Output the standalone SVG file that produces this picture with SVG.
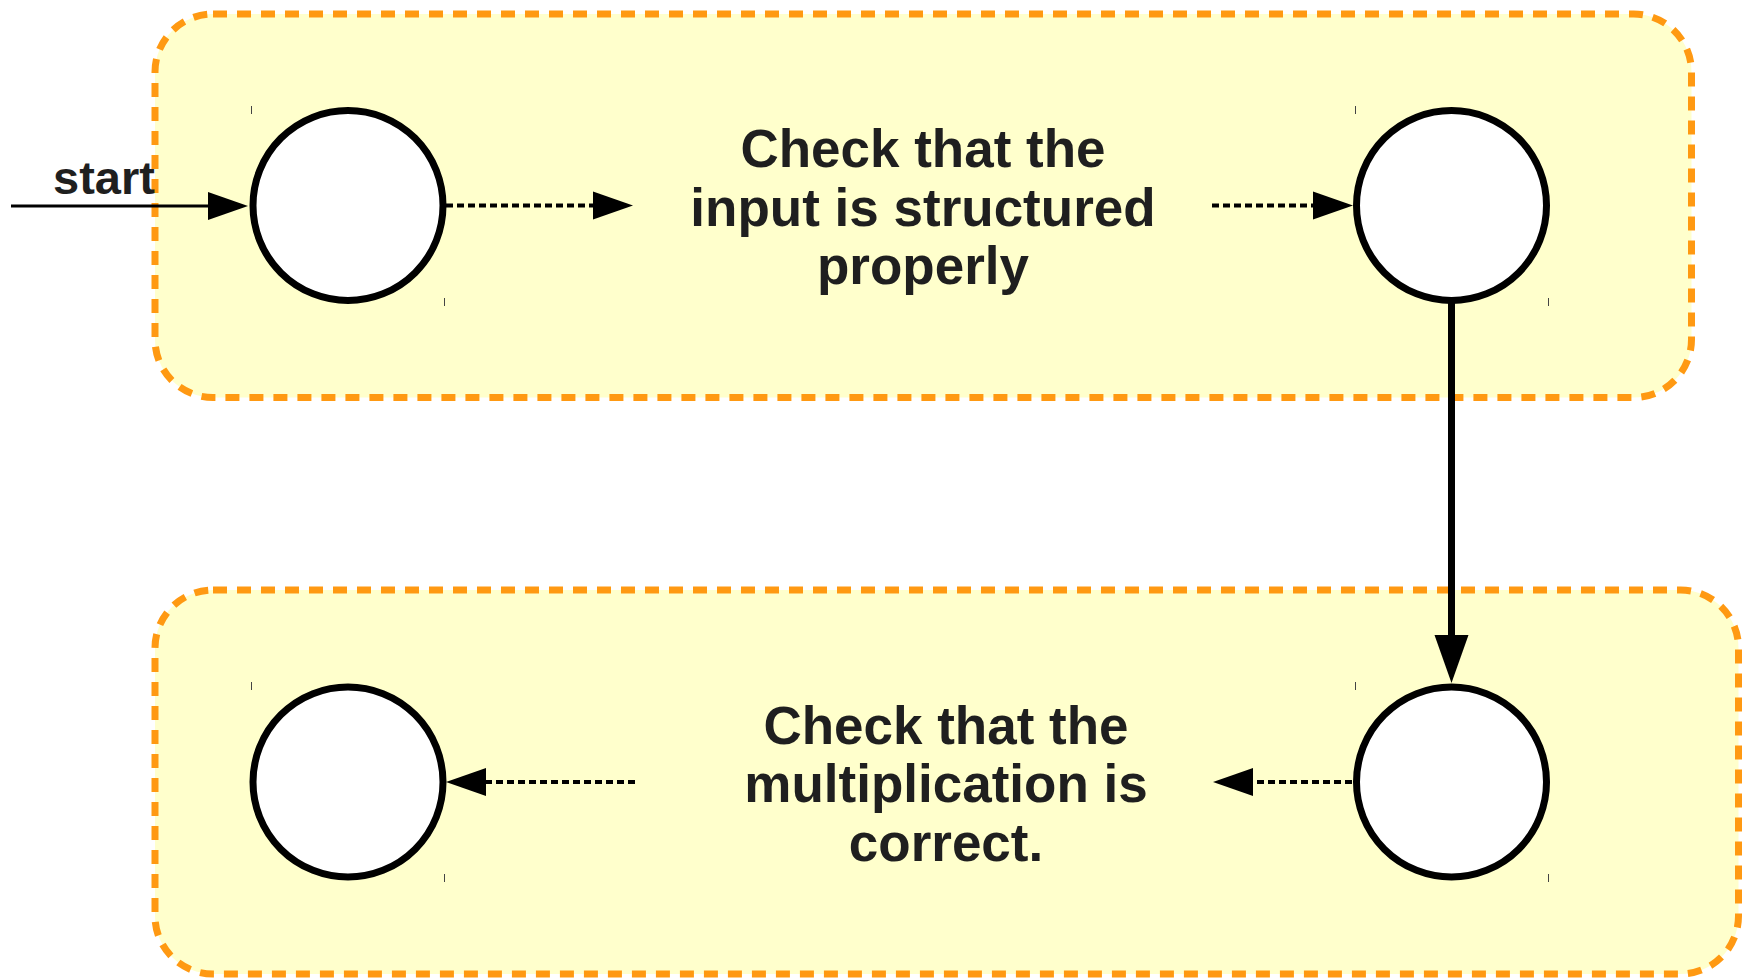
<svg xmlns="http://www.w3.org/2000/svg" width="1742" height="978" viewBox="0 0 1742 978">
  <style>
    .cluster { fill: #ffffcc; stroke: #ff9912; stroke-width: 7; stroke-dasharray: 14 10; }
    .state { fill: #ffffff; stroke: #000000; stroke-width: 7; }
    .tick { stroke: #444444; stroke-width: 1; }
    .label { font-family: "Liberation Sans", Arial, sans-serif; font-weight: bold; fill: #1f1f1f; text-anchor: middle; }
    .big { font-size: 53px; }
    .small { font-size: 47px; }
    .edge { fill: none; stroke: #000000; }
    .dotted { stroke-width: 4; stroke-dasharray: 7 4; }
    .solid { stroke-width: 3; }
    .thick { stroke-width: 7; }
  </style>
  <defs>
    <marker id="arrow" markerUnits="userSpaceOnUse" markerWidth="40" markerHeight="28" refX="0" refY="14" orient="auto" overflow="visible">
      <path d="M0,0 L40,14 L0,28 Z" fill="#000000"/>
    </marker>
    <marker id="arrowBig" markerUnits="userSpaceOnUse" markerWidth="48" markerHeight="34" refX="0" refY="17" orient="auto" overflow="visible">
      <path d="M0,0 L48,17 L0,34 Z" fill="#000000"/>
    </marker>
  </defs>

  <!-- clusters -->
  <g id="cluster-structure">
    <rect class="cluster" x="155" y="14" width="1536.5" height="383.5" rx="58" ry="58"/>
  </g>
  <g id="cluster-multiplication">
    <rect class="cluster" x="155" y="590" width="1583.5" height="384" rx="58" ry="58"/>
  </g>

  <!-- states -->
  <g id="state-1">
    <circle class="state" cx="348" cy="205.5" r="95"/>
    <line class="tick" x1="251.5" y1="106" x2="251.5" y2="114"/>
    <line class="tick" x1="444.5" y1="298" x2="444.5" y2="306"/>
  </g>
  <g id="state-2">
    <circle class="state" cx="1451.5" cy="205.5" r="95"/>
    <line class="tick" x1="1355.5" y1="106" x2="1355.5" y2="114"/>
    <line class="tick" x1="1548.5" y1="298" x2="1548.5" y2="306"/>
  </g>
  <g id="state-3">
    <circle class="state" cx="348" cy="782" r="95"/>
    <line class="tick" x1="251.5" y1="682" x2="251.5" y2="690"/>
    <line class="tick" x1="444.5" y1="874" x2="444.5" y2="882"/>
  </g>
  <g id="state-4">
    <circle class="state" cx="1451.5" cy="782" r="95"/>
    <line class="tick" x1="1355.5" y1="682" x2="1355.5" y2="690"/>
    <line class="tick" x1="1548.5" y1="874" x2="1548.5" y2="882"/>
  </g>

  <!-- step labels -->
  <g id="step-structure">
    <text class="label big" x="923" y="167">Check that the</text>
    <text class="label big" x="923" y="225.5">input is structured</text>
    <text class="label big" x="923" y="284">properly</text>
  </g>
  <g id="step-multiplication">
    <text class="label big" x="946" y="743.5">Check that the</text>
    <text class="label big" x="946" y="802">multiplication is</text>
    <text class="label big" x="946" y="860.5">correct.</text>
  </g>

  <!-- connectors -->
  <g id="connectors">
    <line class="edge solid" x1="11" y1="206" x2="208" y2="206" marker-end="url(#arrow)"/>
    <text class="label small" x="104" y="194">start</text>
    <line class="edge dotted" x1="446" y1="205.5" x2="593" y2="205.5" marker-end="url(#arrow)"/>
    <line class="edge dotted" x1="1212" y1="205.5" x2="1313" y2="205.5" marker-end="url(#arrow)"/>
    <line class="edge thick" x1="1451.5" y1="303" x2="1451.5" y2="635" marker-end="url(#arrowBig)"/>
    <line class="edge dotted" x1="1352" y1="782" x2="1253" y2="782" marker-end="url(#arrow)"/>
    <line class="edge dotted" x1="635" y1="782" x2="486" y2="782" marker-end="url(#arrow)"/>
  </g>
</svg>
